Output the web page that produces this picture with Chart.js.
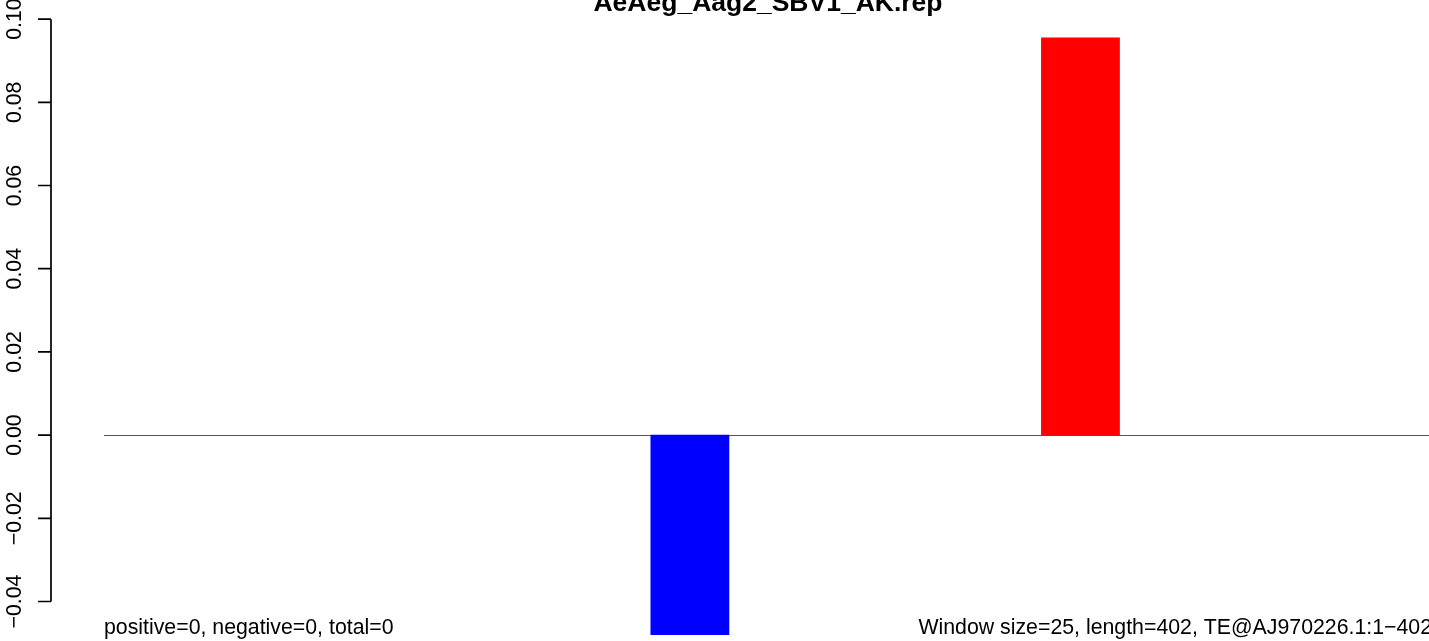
<!DOCTYPE html>
<html>
<head>
<meta charset="utf-8">
<script src="https://cdn.jsdelivr.net/npm/chart.js@4/dist/chart.umd.min.js"></script>
<style>
  html, body { margin: 0; padding: 0; background: #fff; overflow: hidden; }
  #wrap { position: absolute; left: 0; top: 0; }
</style>
</head>
<body>
<div id="wrap"><canvas id="chart" width="1432" height="641"></canvas></div>
<script>
// window start positions (window size 25, length 402)
const windows = ['1', '26', '51', '76', '101', '126', '151', '176', '201', '226', '251', '276', '301', '326', '351', '376', '401'];
// value per window
const values = [0, 0, 0, 0, 0, 0, 0, -0.048, 0, 0, 0, 0, 0.0955, 0, 0, 0, 0];
// y axis ticks as R prints them
const yTicks = [-0.04, -0.02, 0, 0.02, 0.04, 0.06, 0.08, 0.10];
const yTickLabels = ['\u22120.04', '\u22120.02', '0.00', '0.02', '0.04', '0.06', '0.08', '0.10'];

const title = 'AeAeg_Aag2_SBV1_AK.rep';
const footLeft = 'positive=0, negative=0, total=0';
const footRight = 'Window size=25, length=402, TE@AJ970226.1:1\u2212402';

const FONT = '"Liberation Sans", Arial, Helvetica, sans-serif';

function barColor(c) {
  if (c.raw > 0) return '#ff0000';
  if (c.raw < 0) return '#0000ff';
  return 'rgba(0,0,0,0)';
}

// R-style axis, title and margin texts
const rDecor = {
  id: 'rDecor',
  beforeDatasetsDraw(chart) {
    const { ctx, chartArea, scales } = chart;
    const y0 = Math.round(scales.y.getPixelForValue(0)) + 0.5;
    ctx.save();
    ctx.strokeStyle = '#555';
    ctx.lineWidth = 1;
    ctx.beginPath();
    ctx.moveTo(chartArea.left, y0);
    ctx.lineTo(chartArea.right, y0);
    ctx.stroke();
    ctx.restore();
  },
  afterDraw(chart) {
    const { ctx, chartArea, scales } = chart;
    const y = scales.y;
    const axisX = 51;
    ctx.save();
    ctx.strokeStyle = '#000';
    ctx.lineWidth = 1.7;
    ctx.beginPath();
    ctx.moveTo(axisX, y.getPixelForValue(yTicks[0]));
    ctx.lineTo(axisX, y.getPixelForValue(yTicks[yTicks.length - 1]));
    yTicks.forEach(v => {
      const py = y.getPixelForValue(v);
      ctx.moveTo(axisX, py);
      ctx.lineTo(axisX - 13, py);
    });
    ctx.stroke();

    ctx.fillStyle = '#000';
    ctx.font = '21.3px ' + FONT;
    ctx.textAlign = 'center';
    ctx.textBaseline = 'alphabetic';
    yTicks.forEach((v, i) => {
      ctx.save();
      ctx.translate(20.5, y.getPixelForValue(v));
      ctx.rotate(-Math.PI / 2);
      ctx.fillText(yTickLabels[i], 0, 0);
      ctx.restore();
    });

    // title
    ctx.font = 'bold 26.5px ' + FONT;
    ctx.textAlign = 'center';
    ctx.fillText(title, (chartArea.left + chartArea.right) / 2, 10.5);

    // bottom margin texts
    ctx.font = '21.3px ' + FONT;
    ctx.textAlign = 'left';
    ctx.fillText(footLeft, chartArea.left, 634);
    ctx.textAlign = 'right';
    ctx.fillText(footRight, chartArea.right, 634);
    ctx.restore();
  }
};

new Chart(document.getElementById('chart').getContext('2d'), {
  type: 'bar',
  data: {
    labels: windows,
    datasets: [{
      data: values,
      backgroundColor: barColor,
      borderWidth: 0,
      barPercentage: 1,
      categoryPercentage: 1
    }]
  },
  options: {
    responsive: false,
    devicePixelRatio: 1,
    animation: false,
    layout: { padding: { left: 104, right: 0, top: 0, bottom: 0 } },
    scales: {
      x: { display: false, offset: true },
      y: { display: false, min: -0.0495, max: 0.1046 }
    },
    plugins: {
      legend: { display: false },
      tooltip: { enabled: false }
    }
  },
  plugins: [rDecor]
});
</script>
</body>
</html>
